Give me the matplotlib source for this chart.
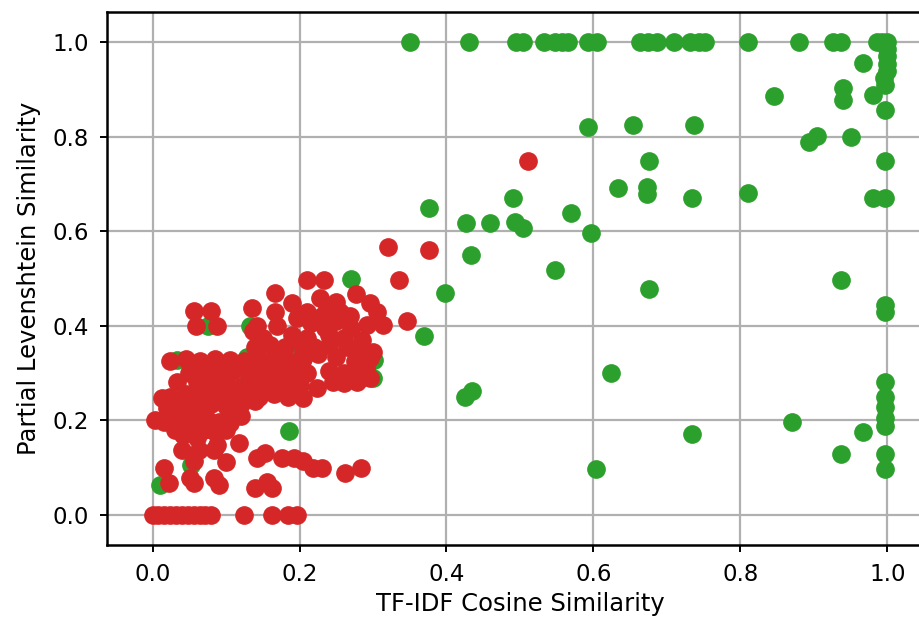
import numpy as np
import matplotlib
matplotlib.use("Agg")
import matplotlib.pyplot as plt

# pairs that match (green) and pairs that don't (red)
green_x = [0.350, 0.430, 0.494, 0.504, 0.533, 0.548, 0.557, 0.565, 0.593, 0.605,
           0.664, 0.674, 0.686, 0.710, 0.732, 0.743, 0.752, 0.810, 0.880, 0.926,
           0.937, 0.986, 0.993, 1.000, 1.000, 1.000, 1.000, 1.000, 0.996, 0.967,
           0.997, 0.980, 0.997, 0.846, 0.940, 0.940, 0.593, 0.654, 0.737, 0.893,
           0.904, 0.950, 0.676, 0.997, 0.634, 0.673, 0.673, 0.734, 0.810, 0.981,
           0.997, 0.490, 0.376, 0.426, 0.459, 0.493, 0.504, 0.570, 0.597, 0.433,
           0.547, 0.270, 0.398, 0.370, 0.301, 0.300, 0.425, 0.435, 0.624, 0.603,
           0.676, 0.937, 0.997, 0.997, 0.734, 0.870, 0.967, 0.937, 0.997, 0.997,
           0.997, 0.997, 0.997, 0.997, 0.997, 0.186, 0.053, 0.010, 0.075, 0.133,
           0.033, 0.128, 0.126, 0.187]
green_y = [1.000, 1.000, 1.000, 1.000, 1.000, 1.000, 1.000, 1.000, 1.000, 1.000,
           1.000, 1.000, 1.000, 1.000, 1.000, 1.000, 1.000, 1.000, 1.000, 1.000,
           1.000, 1.000, 1.000, 1.000, 0.985, 0.970, 0.955, 0.940, 0.925, 0.956,
           0.910, 0.889, 0.857, 0.887, 0.903, 0.878, 0.820, 0.824, 0.824, 0.790,
           0.801, 0.799, 0.748, 0.748, 0.691, 0.693, 0.679, 0.670, 0.681, 0.670,
           0.670, 0.670, 0.649, 0.617, 0.617, 0.619, 0.607, 0.638, 0.597, 0.550,
           0.519, 0.499, 0.469, 0.379, 0.327, 0.289, 0.250, 0.261, 0.301, 0.097,
           0.478, 0.497, 0.444, 0.430, 0.171, 0.197, 0.175, 0.129, 0.129, 0.097,
           0.282, 0.250, 0.229, 0.204, 0.187, 0.177, 0.106, 0.064, 0.399, 0.399,
           0.328, 0.335, 0.275, 0.346]

red_x = [0.000, 0.008, 0.016, 0.024, 0.032, 0.040, 0.048, 0.056, 0.064, 0.072,
         0.080, 0.124, 0.162, 0.184, 0.196,
         0.015, 0.022, 0.051, 0.056, 0.083, 0.090, 0.140, 0.156, 0.162,
         0.056, 0.100, 0.142, 0.153, 0.176, 0.192, 0.205, 0.219, 0.230, 0.262, 0.283,
         0.040, 0.063, 0.083, 0.117, 0.042, 0.060, 0.088, 0.106,
         0.003, 0.015, 0.030, 0.045, 0.060, 0.075, 0.090, 0.105, 0.120,
         0.030, 0.050, 0.070, 0.085, 0.100,
         0.020, 0.040, 0.060, 0.080, 0.100, 0.120, 0.140,
         0.013, 0.024, 0.045, 0.065, 0.085, 0.105, 0.125, 0.145, 0.165, 0.185, 0.205,
         0.033, 0.060, 0.080, 0.100, 0.120, 0.140, 0.160, 0.180, 0.200, 0.224, 0.245,
         0.260, 0.278, 0.283, 0.296,
         0.050, 0.070, 0.090, 0.110, 0.130, 0.150, 0.170, 0.190, 0.210, 0.240, 0.260,
         0.280, 0.290,
         0.024, 0.045, 0.065, 0.085, 0.105, 0.125, 0.145, 0.165, 0.185, 0.205, 0.250,
         0.275, 0.296,
         0.140, 0.160, 0.180, 0.200, 0.220, 0.240, 0.265, 0.285, 0.150, 0.190, 0.210,
         0.240, 0.260, 0.205, 0.225, 0.285, 0.300,
         0.137, 0.142, 0.170, 0.196, 0.215, 0.235, 0.250, 0.270, 0.292, 0.314, 0.346,
         0.230, 0.210, 0.250,
         0.056, 0.079, 0.059, 0.088, 0.136, 0.166, 0.190, 0.228, 0.237, 0.255, 0.269,
         0.296, 0.305, 0.166, 0.277, 0.210, 0.234, 0.336, 0.320, 0.376, 0.511]
red_y = [0.000, 0.000, 0.000, 0.000, 0.000, 0.000, 0.000, 0.000, 0.000, 0.000,
         0.000, 0.000, 0.000, 0.000, 0.000,
         0.099, 0.067, 0.078, 0.067, 0.078, 0.063, 0.056, 0.070, 0.056,
         0.113, 0.111, 0.120, 0.130, 0.120, 0.120, 0.113, 0.099, 0.099, 0.088, 0.099,
         0.138, 0.138, 0.138, 0.152, 0.169, 0.162, 0.148, 0.194,
         0.200, 0.197, 0.200, 0.200, 0.200, 0.200, 0.197, 0.210, 0.210,
         0.180, 0.185, 0.180, 0.175, 0.180,
         0.225, 0.230, 0.225, 0.235, 0.230, 0.235, 0.240,
         0.247, 0.250, 0.255, 0.250, 0.255, 0.250, 0.255, 0.250, 0.255, 0.250, 0.247,
         0.282, 0.280, 0.275, 0.280, 0.270, 0.280, 0.275, 0.280, 0.275, 0.268, 0.280,
         0.279, 0.282, 0.289, 0.289,
         0.300, 0.305, 0.300, 0.305, 0.300, 0.305, 0.300, 0.305, 0.300, 0.305, 0.300,
         0.310, 0.310,
         0.325, 0.330, 0.325, 0.330, 0.328, 0.325, 0.330, 0.330, 0.325, 0.330, 0.335,
         0.325, 0.331,
         0.355, 0.360, 0.355, 0.365, 0.355, 0.360, 0.355, 0.350, 0.375, 0.380, 0.375,
         0.380, 0.375, 0.345, 0.340, 0.370, 0.345,
         0.388, 0.399, 0.400, 0.416, 0.405, 0.395, 0.410, 0.395, 0.402, 0.402, 0.411,
         0.420, 0.430, 0.450,
         0.432, 0.432, 0.399, 0.399, 0.437, 0.430, 0.448, 0.458, 0.437, 0.430, 0.420,
         0.448, 0.430, 0.469, 0.468, 0.497, 0.497, 0.497, 0.566, 0.561, 0.748]

fig = plt.figure(figsize=(9.19, 6.19), dpi=100)
ax = fig.add_axes([0.1164, 0.1195, 0.8988, 0.861])

ax.scatter(green_x, green_y, s=155, color='tab:green', zorder=2)
ax.scatter(red_x, red_y, s=155, color='tab:red', zorder=3)

ax.set_xlim(-0.062, 1.062)
ax.set_ylim(-0.064, 1.064)
ax.set_xticks(np.arange(0, 1.01, 0.2))
ax.set_yticks(np.arange(0, 1.01, 0.2))

ax.grid(True, color='#b0b0b0', linewidth=1.6, zorder=0)
ax.set_axisbelow(True)
for sp in ax.spines.values():
    sp.set_linewidth(1.8)

ax.tick_params(labelsize=16.5, length=5, width=1.4, pad=8)
ax.set_xlabel('TF-IDF Cosine Similarity', fontsize=17.5, labelpad=4)
ax.set_ylabel('Partial Levenshtein Similarity', fontsize=17.5, labelpad=8)

fig.savefig('out.png', dpi=100)
